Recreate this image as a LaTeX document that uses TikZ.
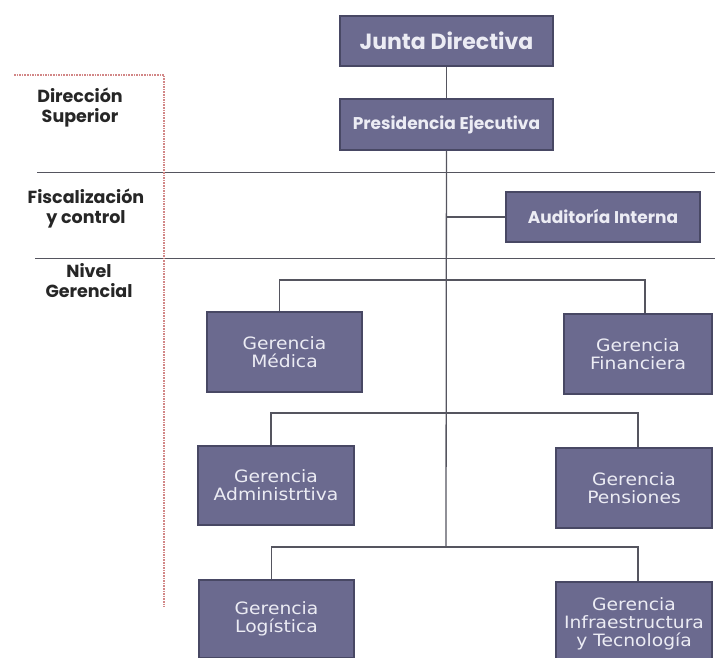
\documentclass[tikz,border=0pt]{standalone}
\usepackage{fontspec}
\setmainfont{DejaVu Sans}
\newfontfamily\geofont{Poppins}
\newfontfamily\gerfont[FakeStretch=1.1]{DejaVu Sans}
\usepackage{xcolor}
\definecolor{boxfill}{RGB}{107,106,143}
\definecolor{boxline}{RGB}{72,72,100}
\definecolor{boxtext}{RGB}{236,236,244}
\definecolor{linegray}{RGB}{85,85,95}
\definecolor{reddash}{RGB}{210,135,135}

\begin{document}
\begin{tikzpicture}[x=1pt,y=1pt,yscale=-1,xscale=1,
    unit/.style={draw=boxline,line width=1.4pt,fill=boxfill,text=boxtext,inner sep=0pt,align=center},
    topunit/.style={unit,font=\geofont\bfseries\fontsize{17}{19}\selectfont},
    gerunit/.style={unit,font=\gerfont\fontsize{17}{18}\selectfont},
    level/.style={align=center,font=\geofont\bfseries\fontsize{17.5}{20}\selectfont,text=black!85},
    link/.style={draw=linegray,line width=1.3pt}]
  \clip (0,0) rectangle (715,657);
  % niveles
  \draw [linegray,line width=0.9pt] (37,172) -- (715,172) ;
  \draw [linegray,line width=0.9pt] (35,258) -- (715,258) ;
  \draw [reddash,line width=1.4pt,dash pattern={on 1.6pt off 1pt}] (14,75) -| (164,607) ;
  \node [level] (dir) at (80,108) {Dirección\\Superior};
  \node [level] (fis) at (86,209) {Fiscalización\\y control};
  \node [level] (niv) at (89,281) {Nivel\\Gerencial};
  % cajas
  \node [topunit,minimum width=213pt,minimum height=50pt,font=\geofont\bfseries\fontsize{22}{24}\selectfont] (junta) at (446.5,41) {Junta Directiva};
  \node [topunit,minimum width=213pt,minimum height=51pt] (presid) at (446.5,124.5) {Presidencia Ejecutiva};
  \node [topunit,minimum width=194pt,minimum height=50pt] (audit) at (603,217) {Auditoría Interna};
  \node [gerunit,minimum width=155pt,minimum height=80pt] (medica) at (284.5,352) {Gerencia\\Médica};
  \node [gerunit,minimum width=148pt,minimum height=80pt] (finan) at (638,354) {Gerencia\\Financiera};
  \node [gerunit,minimum width=156pt,minimum height=79pt] (admin) at (276,485.5) {Gerencia\\Administrtiva};
  \node [gerunit,minimum width=156pt,minimum height=80pt] (pens) at (634,488) {Gerencia\\Pensiones};
  \node [gerunit,minimum width=155pt,minimum height=78pt] (logis) at (276.5,619) {Gerencia\\Logística};
  \node [gerunit,minimum width=156pt,minimum height=83pt] (infra) at (634,623.5) {Gerencia\\Infraestructura\\y Tecnología};
  % uniones
  \coordinate (b0) at (446,217);
  \coordinate (b1) at (446,280);
  \coordinate (b2) at (446,413);
  \coordinate (b3) at (446,547);
  \draw [link] (junta) -- (presid) ;
  \draw [link] (presid) -- (b3) ;
  \draw [link] (b0) -- (audit) ;
  \draw [link] ([xshift=-5pt]medica.north) |- (b1) -| ([xshift=7pt]finan.north) ;
  \draw [link] ([xshift=-5pt]admin.north) |- (b2) -| ([xshift=4pt]pens.north) ;
  \draw [link] ([xshift=-5pt]logis.north) |- (b3) -| ([xshift=4pt]infra.north) ;
\end{tikzpicture}
\end{document}
